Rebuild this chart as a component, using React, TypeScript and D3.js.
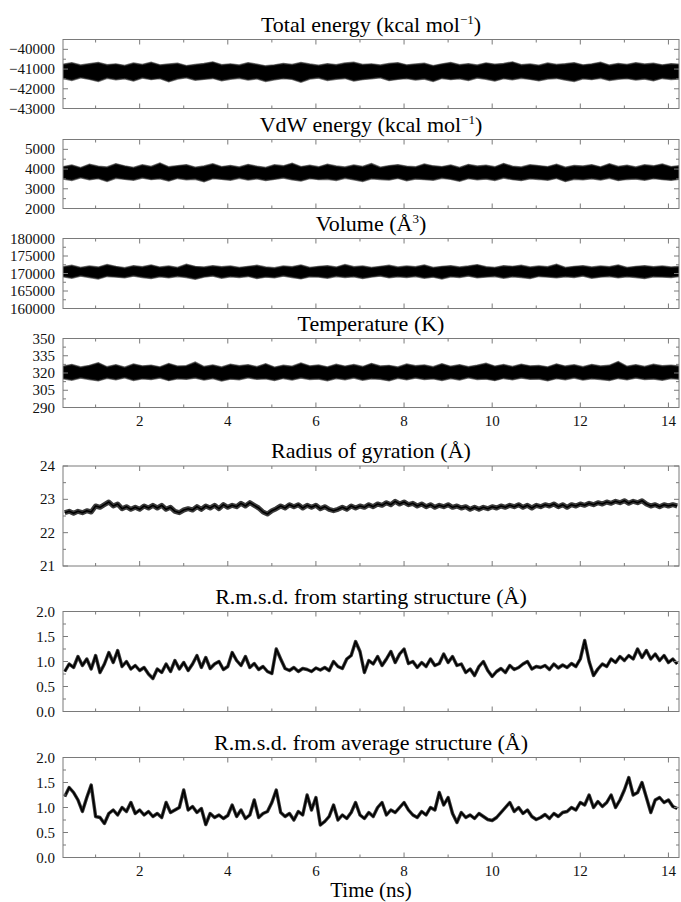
import * as d3 from "d3";

const width = 681;
const height = 902;
const plotLeft = 63;
const plotRight = 679;
const font = "Liberation Serif, Times New Roman, serif";

// time axis (ns)
const timeDomain = [0.26, 14.24];
const timeMajor = [2, 4, 6, 8, 10, 12, 14];
const timeMinor = [1, 3, 5, 7, 9, 11, 13];

// the noisy bands are sampled every 0.2 ns, the slower traces every 0.1 ns
const bandTimes = d3.range(71).map((i) => 0.26 + i * 0.2);
const traceTimes = d3.range(140).map((i) => 0.3 + i * 0.1);

// Total energy (kcal/mol), upper and lower edge of the band
const totalEnergyHigh = [
  -40780, -40700, -40820, -40750, -40690, -40800, -40760, -40840, -40720, -40790,
  -40680, -40810, -40770, -40730, -40850, -40790, -40740, -40660, -40800, -40760,
  -40820, -40700, -40780, -40860, -40810, -40740, -40790, -40690, -40770, -40830,
  -40750, -40800, -40720, -40680, -40790, -40760, -40820, -40740, -40700, -40810,
  -40770, -40730, -40850, -40760, -40690, -40800, -40750, -40820, -40710, -40780,
  -40740, -40660, -40800, -40770, -40830, -40720, -40790, -40750, -40700, -40810,
  -40760, -40680, -40820, -40740, -40790, -40700, -40770, -40730, -40810, -40750, -40780,
];
const totalEnergyLow = [
  -41450, -41550, -41420, -41500, -41600, -41440, -41520, -41470, -41580, -41430,
  -41510, -41460, -41620, -41480, -41420, -41540, -41500, -41450, -41570, -41490,
  -41440, -41530, -41470, -41600, -41520, -41460, -41500, -41640, -41480, -41430,
  -41550, -41490, -41450, -41580, -41510, -41470, -41420, -41560, -41500, -41460,
  -41530, -41480, -41600, -41450, -41510, -41470, -41550, -41430, -41490, -41580,
  -41460, -41520, -41440, -41500, -41570, -41480, -41450, -41530, -41600, -41470,
  -41510, -41440, -41550, -41490, -41460, -41530, -41480, -41570, -41450, -41500, -41480,
];

// VdW energy (kcal/mol)
const vdwHigh = [
  4100, 4180, 4050, 4220, 4120, 4080, 4250, 4140, 4060, 4190,
  4110, 4280, 4090, 4150, 4200, 4070, 4130, 4240, 4100, 4160,
  4080, 4210, 4120, 4060, 4190, 4140, 4270, 4100, 4170, 4090,
  4220, 4130, 4080, 4180, 4110, 4250, 4070, 4150, 4200, 4120,
  4090, 4230, 4140, 4100, 4180, 4060, 4210, 4130, 4170, 4090,
  4260, 4120, 4080, 4190, 4150, 4100, 4220, 4070, 4160, 4130,
  4200, 4090, 4240, 4110, 4170, 4080, 4190, 4140, 4230, 4100, 4150,
];
const vdwLow = [
  3520, 3450, 3580, 3480, 3540, 3400, 3560, 3500, 3460, 3570,
  3490, 3530, 3420, 3550, 3480, 3510, 3380, 3540, 3500, 3460,
  3560, 3470, 3530, 3440, 3500, 3570, 3480, 3420, 3540, 3490,
  3510, 3450, 3560, 3480, 3400, 3530, 3500, 3470, 3550, 3430,
  3520, 3490, 3460, 3560, 3500, 3410, 3540, 3480, 3520, 3450,
  3570, 3490, 3440, 3530, 3500, 3460, 3550, 3390, 3510, 3480,
  3530, 3470, 3560, 3440, 3500, 3520, 3460, 3540, 3490, 3450, 3510,
];

// Volume (A^3)
const volumeHigh = [
  171800, 172200, 171600, 172000, 171700, 172400, 171900, 171500, 172100, 171800,
  172300, 171700, 172000, 171600, 172500, 171900, 171700, 172100, 171800, 172000,
  171600, 171900, 172200, 171700, 171500, 172000, 171800, 172300, 171600, 171900,
  172100, 171700, 172400, 171800, 172000, 171600, 171900, 172200, 171700, 172000,
  171800, 172300, 171600, 171900, 172100, 171700, 172000, 172400, 171800, 171600,
  172100, 171900, 172200, 171700, 172000, 171800, 172500, 171600, 171900, 172100,
  171700, 172000, 171800, 172300, 171600, 171900, 172100, 171800, 172000, 171700, 171900,
];
const volumeLow = [
  169200, 168800, 169400, 169000, 168600, 169300, 169100, 168900, 169400, 169000,
  168700, 169200, 168900, 169300, 169000, 168500, 169100, 169400, 168800, 169200,
  169000, 169300, 168700, 169100, 168900, 169400, 169000, 168600, 169200, 169100,
  168800, 169300, 169000, 169200, 168700, 169100, 169400, 168900, 169200, 169000,
  169300, 168800, 169100, 168600, 169200, 169000, 169400, 168900, 169100, 169300,
  168800, 169200, 169000, 168700, 169300, 169100, 168900, 169200, 169000, 169400,
  168800, 169100, 169300, 168900, 169200, 169000, 168700, 169200, 169100, 169000, 169300,
];

// Temperature (K)
const temperatureHigh = [
  325.5, 327.0, 324.8, 326.2, 328.5, 325.0, 326.8, 324.6, 327.4, 325.8,
  326.4, 324.9, 327.8, 325.6, 326.0, 329.0, 325.2, 326.6, 324.8, 327.2,
  325.9, 326.8, 325.1, 327.6, 324.7, 326.3, 325.5, 328.2, 325.8, 326.5,
  324.9, 327.1, 325.6, 326.9, 325.2, 327.9, 325.7, 326.2, 324.8, 327.3,
  325.9, 326.6, 325.0, 327.7, 325.4, 326.8, 325.1, 326.4, 328.0, 325.6,
  326.9, 325.2, 327.2, 325.8, 326.1, 324.9, 327.5, 325.6, 326.7, 325.0,
  327.0, 325.7, 326.3, 329.5, 325.4, 326.8, 325.2, 327.1, 325.9, 326.4, 325.6,
];
const temperatureLow = [
  315.5, 314.2, 316.0, 314.8, 313.6, 315.8, 314.5, 316.2, 314.0, 315.3,
  314.7, 316.1, 313.8, 315.4, 314.9, 316.0, 314.3, 315.6, 313.5, 315.1,
  314.6, 316.2, 314.9, 315.3, 313.9, 315.7, 314.4, 316.0, 314.8, 315.2,
  313.7, 315.6, 314.6, 316.1, 314.2, 315.4, 314.9, 313.6, 315.8, 314.5,
  316.0, 314.7, 315.3, 313.9, 315.6, 314.4, 316.2, 314.8, 315.1, 313.8,
  315.7, 314.5, 316.0, 314.9, 315.2, 313.6, 315.5, 314.6, 316.1, 314.3,
  315.4, 314.8, 313.9, 315.7, 314.5, 316.0, 314.7, 315.2, 314.1, 315.6, 314.9,
];

// Radius of gyration (A)
const gyration = [
  22.6, 22.64, 22.58, 22.64, 22.6, 22.66, 22.62, 22.8,
  22.76, 22.84, 22.92, 22.8, 22.86, 22.72, 22.78, 22.7, 22.76, 22.7,
  22.8, 22.74, 22.82, 22.74, 22.82, 22.7, 22.76, 22.64, 22.6, 22.68,
  22.72, 22.68, 22.78, 22.7, 22.8, 22.74, 22.82, 22.72, 22.84, 22.76,
  22.82, 22.78, 22.88, 22.8, 22.9, 22.82, 22.74, 22.62, 22.56, 22.66,
  22.72, 22.8, 22.74, 22.84, 22.78, 22.84, 22.74, 22.82, 22.76, 22.82,
  22.72, 22.78, 22.7, 22.66, 22.7, 22.76, 22.7, 22.8, 22.74, 22.8,
  22.76, 22.84, 22.78, 22.86, 22.82, 22.9, 22.84, 22.94, 22.86, 22.92,
  22.84, 22.88, 22.8, 22.86, 22.78, 22.84, 22.76, 22.82, 22.78, 22.84,
  22.76, 22.8, 22.74, 22.78, 22.7, 22.76, 22.7, 22.76, 22.72, 22.78,
  22.74, 22.8, 22.76, 22.82, 22.78, 22.84, 22.76, 22.82, 22.74, 22.82,
  22.78, 22.84, 22.8, 22.86, 22.78, 22.84, 22.76, 22.84, 22.8, 22.86,
  22.82, 22.88, 22.84, 22.9, 22.86, 22.92, 22.88, 22.94, 22.9, 22.96,
  22.88, 22.94, 22.9, 22.96, 22.86, 22.8, 22.84, 22.78, 22.84, 22.8,
  22.84, 22.8,
];

// R.m.s.d. from starting structure (A)
const rmsdStart = [
  0.8, 0.95, 0.88, 1.1, 0.92, 1.05, 0.85, 1.12,
  0.78, 0.95, 1.18, 0.98, 1.22, 0.9, 1.0, 0.85, 0.92, 0.82,
  0.88, 0.75, 0.66, 0.85, 0.78, 0.95, 0.8, 1.02, 0.85, 0.98,
  0.82, 0.95, 1.12, 0.88, 1.08, 0.86, 0.95, 1.0, 0.84, 0.9,
  1.18, 1.02, 0.92, 1.1, 0.88, 0.96, 0.84, 0.9, 0.8, 0.76,
  1.25, 1.05, 0.86, 0.82, 0.88, 0.8, 0.86, 0.84, 0.8, 0.87,
  0.83, 0.88, 0.82, 1.0, 0.9, 0.86, 1.05, 1.12, 1.4, 1.2,
  0.78, 1.02, 0.95, 1.1, 0.92, 1.05, 1.2, 0.98, 1.15, 1.25,
  0.96, 1.0, 0.88, 0.98, 0.9, 1.05, 0.92, 0.96, 1.15, 0.98,
  1.1, 0.92, 0.95, 0.78, 0.85, 0.72, 0.9, 1.0, 0.82, 0.7,
  0.8, 0.86, 0.78, 0.92, 0.84, 0.88, 0.95, 1.0, 0.85, 0.9,
  0.88, 0.92, 0.84, 0.95, 0.87, 0.93, 0.88, 0.96, 0.9, 1.05,
  1.42, 1.0, 0.72, 0.85, 0.95, 0.9, 1.05, 0.98, 1.1, 1.02,
  1.12, 1.05, 1.25, 1.08, 1.22, 1.05, 1.15, 1.02, 1.12, 0.98,
  1.05, 0.95,
];

// R.m.s.d. from average structure (A)
const rmsdAverage = [
  1.22, 1.4, 1.3, 1.15, 0.92, 1.2, 1.45, 0.82,
  0.8, 0.68, 0.88, 0.95, 0.85, 1.0, 0.92, 1.1, 0.88, 0.95,
  0.85, 0.92, 0.82, 0.88, 0.8, 1.1, 0.9, 0.95, 1.0, 1.35,
  0.95, 1.02, 0.9, 0.98, 0.66, 0.88, 0.8, 0.85, 0.78, 0.84,
  1.05, 0.82, 0.95, 0.78, 0.85, 1.15, 0.8, 0.88, 0.92, 1.1,
  1.35, 0.9, 0.82, 0.88, 0.75, 0.92, 0.85, 1.25, 0.95, 1.2,
  0.65, 0.72, 0.82, 1.05, 0.75, 0.85, 0.78, 0.9, 1.1, 0.85,
  0.78, 0.9, 0.82, 1.0, 1.1, 0.85, 0.95, 0.9, 1.0, 1.1,
  0.95, 0.85, 0.8, 0.92, 0.85, 1.0, 0.95, 1.3, 1.05, 1.2,
  0.88, 0.7, 0.9, 0.8, 0.85, 0.78, 0.88, 0.82, 0.76, 0.74,
  0.8, 0.9, 1.0, 1.1, 0.92, 1.0, 0.88, 0.95, 0.82, 0.76,
  0.8, 0.86, 0.78, 0.88, 0.82, 0.9, 0.92, 1.0, 0.95, 1.1,
  1.05, 1.25, 1.0, 1.12, 1.02, 1.1, 1.25, 1.0, 1.15, 1.35,
  1.6, 1.25, 1.3, 1.5, 1.2, 0.9, 1.15, 1.2, 1.1, 1.15,
  1.02, 0.98,
];

type TitlePart = { text: string; sup?: boolean };

type Panel = {
  id: string;
  title: TitlePart[];
  top: number;
  bottom: number;
  domain: [number, number];
  ticks: number[];
  minorStep: number;
  format: (v: number) => string;
  high?: number[];
  low?: number[];
  values?: number[];
  haloWidth?: number;
  timeLabels?: boolean;
};

const intFmt = d3.format("d");
const oneFmt = d3.format(".1f");

const panels: Panel[] = [
  {
    id: "etot",
    title: [{ text: "Total energy (kcal mol" }, { text: "\u22121", sup: true }, { text: ")" }],
    top: 39.5,
    bottom: 108.5,
    domain: [-43000, -39500],
    ticks: [-43000, -42000, -41000, -40000],
    minorStep: 500,
    format: intFmt,
    high: totalEnergyHigh,
    low: totalEnergyLow,
  },
  {
    id: "vdw",
    title: [{ text: "VdW energy (kcal mol" }, { text: "\u22121", sup: true }, { text: ")" }],
    top: 139.5,
    bottom: 208.5,
    domain: [2000, 5500],
    ticks: [2000, 3000, 4000, 5000],
    minorStep: 500,
    format: intFmt,
    high: vdwHigh,
    low: vdwLow,
  },
  {
    id: "vol",
    title: [{ text: "Volume (\u00c5" }, { text: "3", sup: true }, { text: ")" }],
    top: 238.5,
    bottom: 308.5,
    domain: [160000, 180000],
    ticks: [160000, 165000, 170000, 175000, 180000],
    minorStep: 2500,
    format: intFmt,
    high: volumeHigh,
    low: volumeLow,
  },
  {
    id: "temp",
    title: [{ text: "Temperature (K)" }],
    top: 338.5,
    bottom: 407.5,
    domain: [290, 350],
    ticks: [290, 305, 320, 335, 350],
    minorStep: 7.5,
    format: intFmt,
    high: temperatureHigh,
    low: temperatureLow,
    timeLabels: true,
  },
  {
    id: "rg",
    title: [{ text: "Radius of gyration (\u00c5)" }],
    top: 466,
    bottom: 566,
    domain: [21, 24],
    ticks: [21, 22, 23, 24],
    minorStep: 0.5,
    format: intFmt,
    values: gyration,
    haloWidth: 5,
  },
  {
    id: "rmsd0",
    title: [{ text: "R.m.s.d. from starting structure (\u00c5)" }],
    top: 611.5,
    bottom: 711.5,
    domain: [0, 2],
    ticks: [0, 0.5, 1, 1.5, 2],
    minorStep: 0.25,
    format: oneFmt,
    values: rmsdStart,
    haloWidth: 3.4,
  },
  {
    id: "rmsdavg",
    title: [{ text: "R.m.s.d. from average structure (\u00c5)" }],
    top: 757.5,
    bottom: 857.5,
    domain: [0, 2],
    ticks: [0, 0.5, 1, 1.5, 2],
    minorStep: 0.25,
    format: oneFmt,
    values: rmsdAverage,
    haloWidth: 3.4,
    timeLabels: true,
  },
];

const frameColor = "#7a7a7a";

const x = d3.scaleLinear().domain(timeDomain).range([plotLeft, plotRight]);

function PanelView({ p }: { p: Panel }) {
  const y = d3.scaleLinear().domain(p.domain).range([p.bottom, p.top]);
  const minor = d3
    .range(p.domain[0], p.domain[1] + 1e-9, p.minorStep)
    .filter((v) => !p.ticks.some((t) => Math.abs(t - v) < 1e-9));
  const clip = `url(#clip-${p.id})`;

  let mark: any = null;
  if (p.high && p.low) {
    const rows = bandTimes.map((t, i) => ({ t, hi: p.high![i], lo: p.low![i] }));
    const area = d3
      .area<{ t: number; hi: number; lo: number }>()
      .x((d) => x(d.t))
      .y0((d) => y(d.lo))
      .y1((d) => y(d.hi));
    mark = (
      <g clipPath={clip}>
        <path d={area(rows) || ""} fill="#555" stroke="#777" strokeWidth={2.4} />
        <path d={area(rows) || ""} fill="#000" stroke="#1a1a1a" strokeWidth={0.8} />
      </g>
    );
  } else if (p.values) {
    const rows = traceTimes.map((t, i) => ({ t, v: p.values![i] }));
    const line = d3
      .line<{ t: number; v: number }>()
      .x((d) => x(d.t))
      .y((d) => y(d.v));
    const d = line(rows) || "";
    mark = (
      <g clipPath={clip} fill="none" strokeLinejoin="round">
        <path d={d} stroke="#3a3a3a" strokeWidth={p.haloWidth || 3} />
        <path d={d} stroke="#000" strokeWidth={1.6} />
      </g>
    );
  }

  const cx = (plotLeft + plotRight) / 2;

  return (
    <g>
      <defs>
        <clipPath id={`clip-${p.id}`}>
          <rect x={plotLeft} y={p.top} width={plotRight - plotLeft} height={p.bottom - p.top} />
        </clipPath>
      </defs>

      {/* title */}
      <text x={cx} y={p.top - 8} textAnchor="middle" fontSize={22} fill="#000">
        {p.title.map((part, i) =>
          part.sup ? (
            <tspan key={i} dy={-8} fontSize={13}>
              {part.text}
            </tspan>
          ) : (
            <tspan key={i} dy={i > 0 && p.title[i - 1].sup ? 8 : 0}>
              {part.text}
            </tspan>
          )
        )}
      </text>

      {mark}

      {/* frame */}
      <rect
        x={plotLeft}
        y={p.top}
        width={plotRight - plotLeft}
        height={p.bottom - p.top}
        fill="none"
        stroke={frameColor}
        strokeWidth={1}
      />

      {/* time ticks, top and bottom, pointing in */}
      {timeMajor.concat(timeMinor).map((t) => {
        const len = timeMajor.includes(t) ? 5 : 3;
        return (
          <g key={`t${t}`} stroke={frameColor}>
            <line x1={x(t)} x2={x(t)} y1={p.bottom} y2={p.bottom - len} />
            <line x1={x(t)} x2={x(t)} y1={p.top} y2={p.top + len} />
          </g>
        );
      })}

      {/* value ticks, left and right */}
      {p.ticks.map((v) => (
        <g key={`v${v}`}>
          <line x1={plotLeft} x2={plotLeft + 5} y1={y(v)} y2={y(v)} stroke={frameColor} />
          <line x1={plotRight} x2={plotRight - 5} y1={y(v)} y2={y(v)} stroke={frameColor} />
          <text x={plotLeft - 8} y={y(v) + 5} textAnchor="end" fontSize={15} fill="#111">
            {p.format(v)}
          </text>
        </g>
      ))}
      {minor.map((v) => (
        <g key={`m${v}`} stroke={frameColor}>
          <line x1={plotLeft} x2={plotLeft + 3} y1={y(v)} y2={y(v)} />
          <line x1={plotRight} x2={plotRight - 3} y1={y(v)} y2={y(v)} />
        </g>
      ))}

      {p.timeLabels &&
        timeMajor.map((t) => (
          <text key={`l${t}`} x={x(t)} y={p.bottom + 18.5} textAnchor="middle" fontSize={15} fill="#111">
            {t}
          </text>
        ))}
    </g>
  );
}

export default function App() {
  return (
    <svg
      width={width}
      height={height}
      style={{ position: "absolute", left: 0, top: 0, background: "#fff", fontFamily: font }}
    >
      <rect width={width} height={height} fill="#fff" />
      {panels.map((p) => (
        <PanelView key={p.id} p={p} />
      ))}
      <text x={(plotLeft + plotRight) / 2} y={897} textAnchor="middle" fontSize={21} fill="#000">
        Time (ns)
      </text>
    </svg>
  );
}
